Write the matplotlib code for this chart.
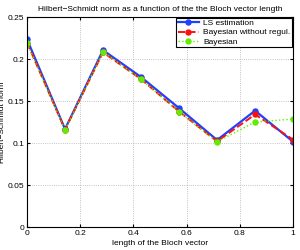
import matplotlib
matplotlib.use('Agg')
import matplotlib.pyplot as plt
import numpy as np

x = np.arange(8) / 7.0
ls_est = [0.2235, 0.1165, 0.2105, 0.1785, 0.1415, 0.1035, 0.1385, 0.1015]
bayes_noreg = [0.2195, 0.1160, 0.2080, 0.1760, 0.1375, 0.1020, 0.1340, 0.1040]
bayes = [0.2190, 0.1155, 0.2085, 0.1760, 0.1370, 0.1015, 0.1250, 0.1285]

plt.rcParams['font.family'] = 'Liberation Sans'
plt.rcParams['font.size'] = 6
fig = plt.figure(figsize=(3.0, 2.5), dpi=100)
ax = fig.add_axes([0.09, 0.092, 0.887, 0.84])

ax.plot(x, ls_est, '-', color='#2040ff', lw=1.6, marker='o', ms=3.6, label='LS estimation')
ax.plot(x, bayes_noreg, '--', color='#ff1010', lw=1.4, marker='o', ms=3.6, label='Bayesian without regul.')
ax.plot(x, bayes, ':', color='#60ee00', lw=1.0, marker='o', ms=3.6, label='Bayesian')

ax.set_xlim(0, 1)
ax.set_ylim(0, 0.25)
ax.set_xticks([0, 0.2, 0.4, 0.6, 0.8, 1])
ax.set_xticklabels(['0', '0.2', '0.4', '0.6', '0.8', '1'])
ax.set_yticks([0, 0.05, 0.1, 0.15, 0.2, 0.25])
ax.set_yticklabels(['0', '0.05', '0.1', '0.15', '0.2', '0.25'])
ax.grid(True, ls=':', color='#b0b0b0', lw=0.6)
ax.tick_params(direction='in', length=2, pad=2, top=True, right=True)
ax.set_xlabel('length of the Bloch vector', labelpad=2)
ax.set_ylabel('Hilbert\u2212Schmidt norm', labelpad=1)
ax.set_title('Hilbert\u2212Schmidt norm as a function of the the Bloch vector length', fontsize=6, pad=4)
leg = ax.legend(loc='upper right', fancybox=False, edgecolor='black', framealpha=1,
                borderpad=0.2, labelspacing=0.15, handlelength=2.6, handletextpad=0.5,
                borderaxespad=0.1)
leg.get_frame().set_linewidth(0.8)

fig.savefig('out.png', dpi=100)
